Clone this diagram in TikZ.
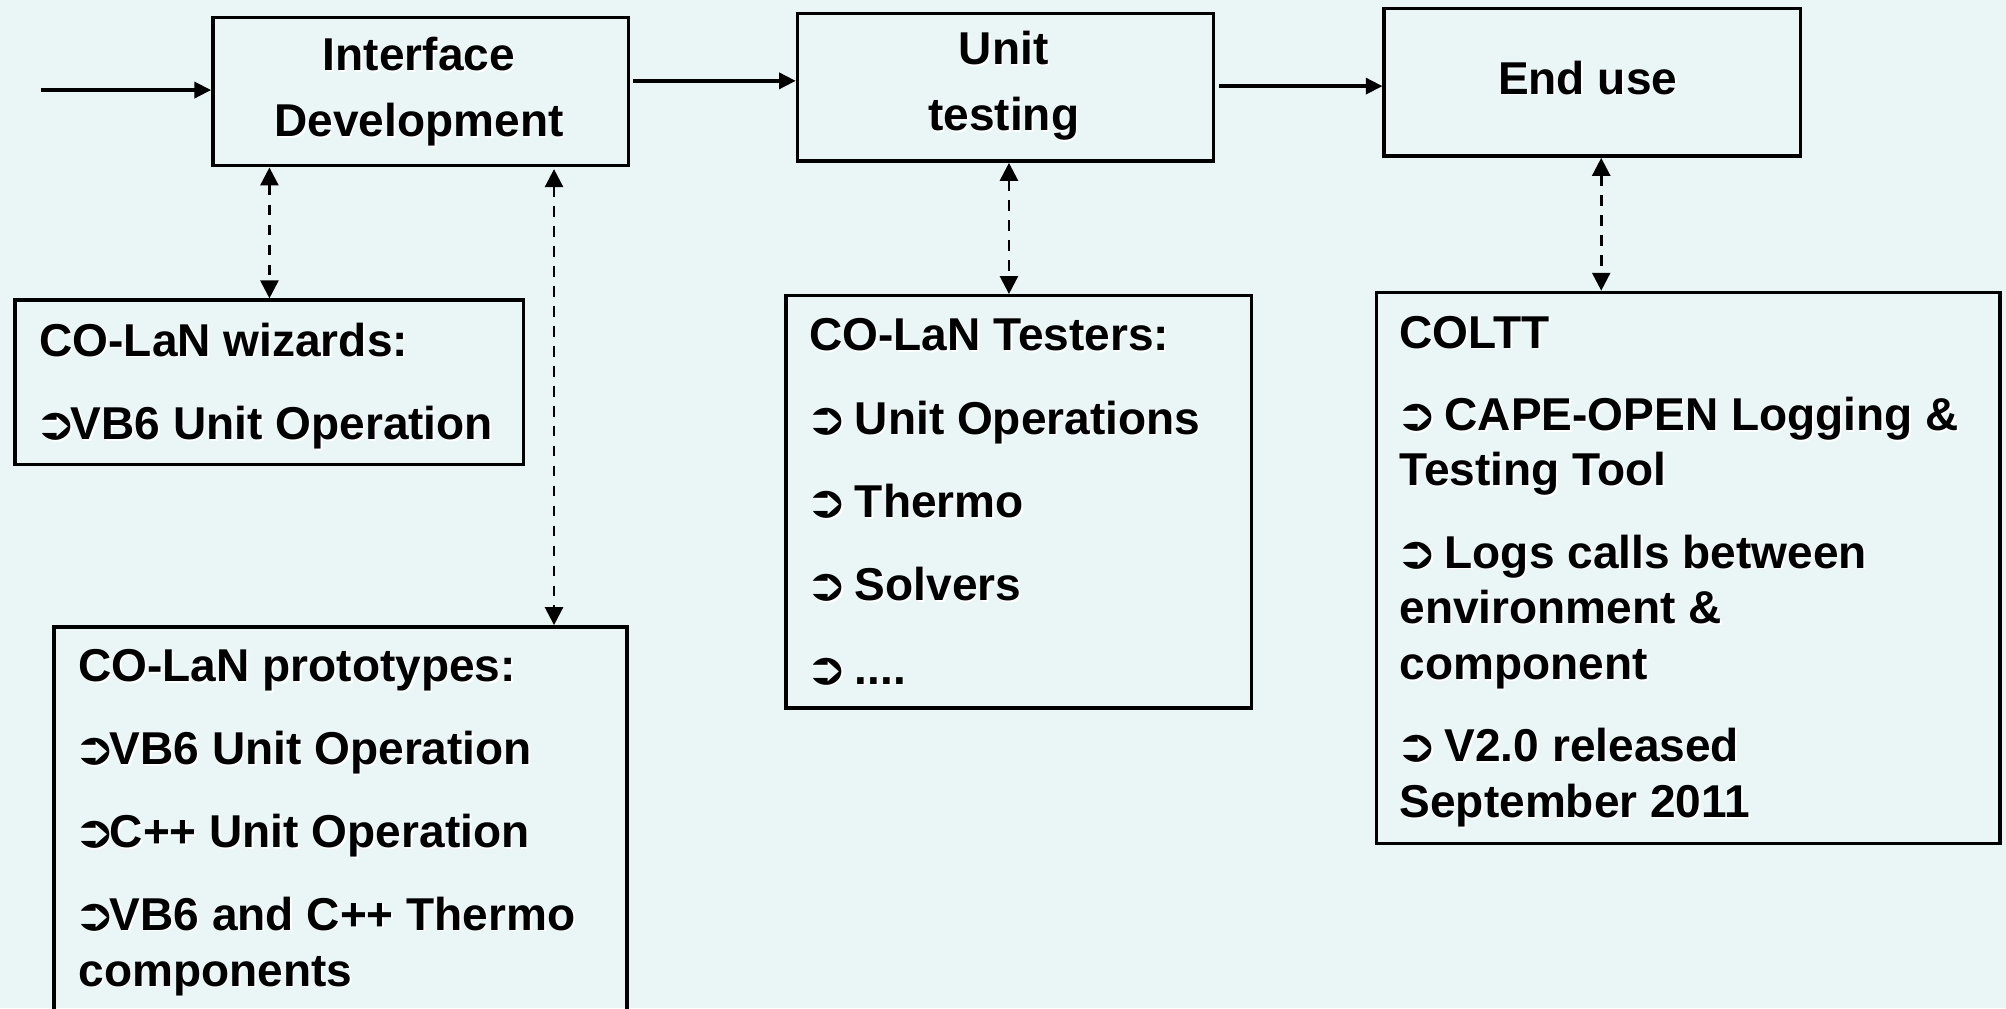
\documentclass[tikz,border=0pt]{standalone}
\usepackage{fontspec}
\setmainfont{Liberation Sans}
\newfontfamily\dejavu{DejaVu Sans}
\usetikzlibrary{arrows.meta}
\definecolor{bgc}{HTML}{EAF6F6}
\newcommand\bodyfont{\fontsize{36pt}{43.5pt}\selectfont\bfseries}
\newcommand\bul{\makebox[24.5pt][l]{\hspace{-4pt}\resizebox{33pt}{20.5pt}{\dejavu ➲}}}
\newcommand\shd[1]{\leavevmode\rlap{\kern1.3pt\raisebox{-1.3pt}{\color{white}#1}}#1}
\tikzset{
  box/.style={draw=black, line width=2.7pt, inner sep=0pt, anchor=north west},
  ln/.style={anchor=base west, inner sep=0pt, font=\bodyfont},
  ctr/.style={anchor=base, inner sep=0pt, font=\bodyfont},
  flow/.style={line width=2.6pt, -{Triangle[length=13pt,width=12.5pt]}},
  dflow/.style={line width=2.1pt, dash pattern=on 8.3pt off 7.3pt,
    {Triangle[length=14pt,width=14pt]}-{Triangle[length=14pt,width=14pt]}},
}
\begin{document}
\begin{tikzpicture}[x=1pt,y=-1pt]
\useasboundingbox (0,0) rectangle (1568,788);
\clip (0,0) rectangle (1568,788);
\fill[bgc] (0,0) rectangle (1568,788);

% boxes
\node[box, minimum width=325pt, minimum height=115.7pt] (ifd) at (165,12.5) {};
\node[box, minimum width=325pt, minimum height=115.5pt] (ut) at (622,9.1) {};
\node[box, minimum width=325.3pt, minimum height=115.5pt] (eu) at (1080.6,5.2) {};
\node[box, minimum width=397.5pt, minimum height=128.5pt] (wiz) at (10.5,233.2) {};
\node[box, minimum width=447.8pt, minimum height=340pt] (proto) at (40.8,488.6) {};
\node[box, minimum width=363.7pt, minimum height=322.2pt] (tst) at (613,229.8) {};
\node[box, minimum width=487.5pt, minimum height=430.6pt] (coltt) at (1074.5,227.2) {};

% top box texts
\node[ctr] (i1) at (327.5,55.2) {\shd{Interface}};
\node[ctr] (i2) at (327.5,106.8) {\shd{Development}};
\node[ctr] (u1) at (784.5,50.8) {\shd{Unit}};
\node[ctr] (u2) at (784.5,102.2) {\shd{testing}};
\node[ctr] (e1) at (1241,73.5) {\shd{End use}};

% wizards
\node[ln] (w1) at (30.7,278.3) {\shd{CO-LaN wizards:}};
\node[ln] (w2) at (30.7,343.5) {\shd{\bul VB6 Unit Operation}};

% prototypes
\node[ln] (p1) at (61.1,532.9) {\shd{CO-LaN prototypes:}};
\node[ln] (p2) at (61.1,597.5) {\shd{\bul VB6 Unit Operation}};
\node[ln] (p3) at (61.1,662.4) {\shd{\bul C++ Unit Operation}};
\node[ln] (p4) at (61.1,727.1) {\shd{\bul VB6 and C++ Thermo}};
\node[ln] (p5) at (61.1,770.9) {\shd{components}};

% testers
\node[ln] (t1) at (632.3,274.2) {\shd{CO-LaN Testers:}};
\node[ln] (t2) at (633.5,339.3) {\shd{\bul{} Unit Operations}};
\node[ln] (t3) at (633.5,404.4) {\shd{\bul{} Thermo}};
\node[ln] (t4) at (633.5,469.5) {\shd{\bul{} Solvers}};
\node[ln] (t5) at (633.5,534.7) {\shd{\bul{} ....}};

% COLTT
\node[ln] (c1) at (1093.8,272.1) {\shd{COLTT}};
\node[ln] (c2) at (1094.5,336.4) {\shd{\bul{} CAPE-OPEN Logging \&}};
\node[ln] (c3) at (1093.8,379.8) {\shd{Testing Tool}};
\node[ln] (c4) at (1094.5,444) {\shd{\bul{} Logs calls between}};
\node[ln] (c5) at (1093.8,487.4) {\shd{environment \&}};
\node[ln] (c6) at (1093.8,531.4) {\shd{component}};
\node[ln] (c7) at (1094.5,595.6) {\shd{\bul{} V2.0 released}};
\node[ln] (c8) at (1093.8,639) {\shd{September 2011}};

% solid flow arrows
\coordinate (start) at (32,70.4);
\draw[flow] (start) -- (start -| ifd.west);
\coordinate (a1) at ([xshift=2pt,yshift=8.5pt]ifd.east);
\draw[flow] (a1) -- (a1 -| ut.west);
\coordinate (a2) at ([xshift=3pt,yshift=0.9pt]ut.east);
\draw[flow] (a2) -- (a2 -| eu.west);

% dashed double arrows
\draw[dflow] (wiz.north |- ifd.south) -- (wiz.north);
\coordinate (d2) at ([xshift=104.2pt,yshift=-1.3pt]ifd.south);
\draw[dflow] (d2) -- (d2 |- proto.north);
\coordinate (d3) at ([xshift=2.8pt]ut.south);
\draw[dflow] (d3) -- (d3 |- tst.north);
\coordinate (d4) at ([xshift=7pt]eu.south);
\draw[dflow] (d4) -- (d4 |- coltt.north);
\end{tikzpicture}
\end{document}
